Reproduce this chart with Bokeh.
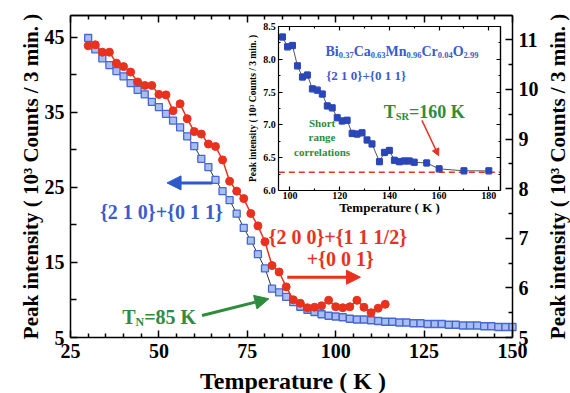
import math
from bokeh.plotting import figure
from bokeh.models import (Range1d, LinearAxis, FixedTicker, Label, Arrow, NormalHead,
                          Whisker, TeeHead, ColumnDataSource, PrintfTickFormatter)
from bokeh.embed import file_html
from bokeh.resources import INLINE

# ---------------- data: main panel ----------------
temp_blue = [30, 32, 34, 36, 38, 40, 42, 44, 46, 48, 50, 52, 54, 56, 58, 60, 62, 64, 66, 68,
             70, 72, 74, 76, 78, 80, 82, 84, 86, 88, 90, 92, 94, 96, 98, 100, 102, 104, 106, 108,
             110, 112, 114, 116, 118, 120, 122, 124, 126, 128, 130, 132, 134, 136, 138, 140,
             142, 144, 146, 148, 150]
counts_blue = [44.9, 43.4, 42.2, 41.3, 40.5, 39.8, 38.9, 38.0, 37.4, 36.4, 35.7, 34.8, 33.9, 33.0,
               31.8, 30.5, 28.8, 27.7, 26.0, 24.5, 23.3, 21.5, 19.6, 17.9, 16.1, 14.2, 11.5, 11.0,
               10.4, 9.7, 9.1, 8.7, 8.4, 8.1, 7.9, 7.8, 7.7, 7.5, 7.4, 7.4, 7.3, 7.2, 7.1, 7.1,
               7.0, 7.0, 6.9, 6.9, 6.8, 6.8, 6.8, 6.7, 6.7, 6.6, 6.6, 6.6, 6.5, 6.5, 6.4, 6.4, 6.4]
err_blue = 0.25

temp_red = [30, 32, 34, 36, 38, 40, 42, 44, 46, 48, 50, 52, 54, 56, 58, 60, 62, 64, 66, 68,
            70, 72, 74, 76, 78, 80, 82, 84, 86, 88, 90, 92, 94, 96, 98, 100, 102, 104, 106, 108,
            110, 112, 114]
counts_red = [10.88, 10.90, 10.75, 10.75, 10.53, 10.46, 10.35, 10.15, 10.08, 10.08, 9.90, 9.89,
              9.57, 9.71, 9.41, 9.15, 9.10, 8.90, 8.85, 8.58, 8.15, 7.95, 7.80, 7.50, 7.25, 6.93,
              6.45, 6.32, 6.02, 5.76, 5.69, 5.60, 5.61, 5.64, 5.75, 5.62, 5.60, 5.62, 5.75, 5.61,
              5.50, 5.59, 5.67]
err_red = 0.06

# ---------------- data: inset ----------------
temp_inset = [97, 99, 101, 103, 105, 107, 109, 111, 113, 115, 117, 119, 121, 123, 125, 127, 129,
              131, 133, 136, 138, 140, 142, 144, 146, 148, 150, 155, 160, 170, 180]
counts_inset = [8.34, 8.19, 8.21, 7.90, 7.73, 7.76, 7.55, 7.53, 7.47, 7.29, 7.26, 7.11, 7.06, 7.07,
                6.87, 6.86, 6.88, 6.77, 6.71, 6.44, 6.58, 6.61, 6.46, 6.44, 6.45, 6.45, 6.43,
                6.42, 6.33, 6.30, 6.30]
err_inset = 0.05
background_level = 6.28

main_x_ticks = [25, 50, 75, 100, 125, 150]
main_x_minor = [30, 35, 40, 45, 55, 60, 65, 70, 80, 85, 90, 95, 105, 110, 115, 120, 130, 135,
                140, 145]
left_ticks = [5, 15, 25, 35, 45]
left_minor = [10, 20, 30, 40]
right_ticks = [5, 6, 7, 8, 9, 10, 11]
right_minor = [5.5, 6.5, 7.5, 8.5, 9.5, 10.5]
inset_x_ticks = [100, 120, 140, 160, 180]
inset_x_minor = [110, 130, 150, 170]
inset_y_ticks = [6.0, 6.5, 7.0, 7.5, 8.0, 8.5]
inset_y_minor = [6.25, 6.75, 7.25, 7.75, 8.25]

# ---------------- colours / fonts ----------------
SERIF = "Liberation Serif"
BLUE_TXT = "#3a5ccc"
RED = "#e8321e"
GREEN = "#2e8c3c"
INSET_BLUE = "#2a46b8"

# axis windows (data) and where they sit on the 570 x 393 canvas (pixels)
W, H = 570, 393
X_RANGE, X_PIX = (25, 150), (70, 512)
LEFT_RANGE, Y_PIX = (5, 47.9), (337, 15)
RIGHT_RANGE = (5, 11.49)
INSET_X, INSET_XPIX = (95.5, 184.7), (278.3, 500)
INSET_Y, INSET_YPIX = (6.0, 8.5), (190, 26)


def xspan(rng_, pix):
    s = (rng_[1] - rng_[0]) / (pix[1] - pix[0])
    return Range1d(rng_[0] - pix[0] * s, rng_[1] + (W - pix[1]) * s)


def yspan(rng_, pix):
    s = (rng_[1] - rng_[0]) / (pix[0] - pix[1])
    return Range1d(rng_[0] - (H - pix[0]) * s, rng_[1] + pix[1] * s)


p = figure(width=W, height=H, output_backend="svg", toolbar_location=None,
           x_range=xspan(X_RANGE, X_PIX), y_range=yspan(LEFT_RANGE, Y_PIX),
           x_axis_location=None, y_axis_location=None,
           min_border=0, min_border_left=0, min_border_right=0, min_border_top=0,
           min_border_bottom=0)
p.extra_y_ranges = {"r": yspan(RIGHT_RANGE, Y_PIX), "iy": yspan(INSET_Y, INSET_YPIX)}
p.extra_x_ranges = {"ix": xspan(INSET_X, INSET_XPIX)}
p.grid.visible = False
p.outline_line_color = None
p.background_fill_color = "white"
p.border_fill_color = "white"


def style_axis(ax, size="20px", tin=7, mtin=4, lw=1.5, standoff=5):
    ax.axis_line_width = lw
    ax.axis_line_color = "black"
    ax.major_tick_in = tin
    ax.major_tick_out = 0
    ax.minor_tick_in = mtin
    ax.minor_tick_out = 0
    ax.major_tick_line_width = lw
    ax.minor_tick_line_width = lw
    ax.major_label_text_font = SERIF
    ax.major_label_text_font_style = "bold"
    ax.major_label_text_color = "black"
    ax.major_label_standoff = standoff
    ax.major_label_text_font_size = size


def title_style(ax, text, size, standoff):
    ax.axis_label = text
    ax.axis_label_text_font = SERIF
    ax.axis_label_text_font_style = "bold"
    ax.axis_label_text_font_size = size
    ax.axis_label_text_color = "black"
    ax.axis_label_standoff = standoff


def tick_only(place, loc, positions, length, lw, bounds, **rng):
    ax = LinearAxis(fixed_location=loc, bounds=bounds,
                    ticker=FixedTicker(ticks=[], minor_ticks=positions), **rng)
    ax.axis_line_width = lw
    ax.minor_tick_in = length
    ax.minor_tick_out = 0
    ax.minor_tick_line_width = lw
    ax.major_tick_line_color = None
    p.add_layout(ax, place)


# ---------------- main axes ----------------
xb = LinearAxis(fixed_location=LEFT_RANGE[0], bounds=X_RANGE,
                ticker=FixedTicker(ticks=main_x_ticks, minor_ticks=main_x_minor))
style_axis(xb, standoff=6)
p.add_layout(xb, "below")

yl = LinearAxis(fixed_location=X_RANGE[0], bounds=LEFT_RANGE,
                ticker=FixedTicker(ticks=left_ticks, minor_ticks=left_minor))
style_axis(yl, tin=7, mtin=6, standoff=6)
p.add_layout(yl, "left")

yr = LinearAxis(fixed_location=X_RANGE[1], bounds=RIGHT_RANGE, y_range_name="r",
                ticker=FixedTicker(ticks=right_ticks, minor_ticks=right_minor))
style_axis(yr, standoff=6)
p.add_layout(yr, "right")

tick_only("above", LEFT_RANGE[1], main_x_ticks, 7, 1.5, X_RANGE)
tick_only("above", LEFT_RANGE[1], main_x_minor, 4, 1.5, X_RANGE)

# ---------------- main data ----------------
src_b = ColumnDataSource(dict(x=temp_blue, y=counts_blue,
                              lo=[v - err_blue for v in counts_blue],
                              hi=[v + err_blue for v in counts_blue]))
src_r = ColumnDataSource(dict(x=temp_red, y=counts_red,
                              lo=[v - err_red for v in counts_red],
                              hi=[v + err_red for v in counts_red]))

p.line("x", "y", source=src_b, line_color="#333333", line_width=1)
p.add_layout(Whisker(base="x", lower="lo", upper="hi", source=src_b, line_color="#7d97e0",
                     upper_head=TeeHead(size=4, line_color="#7d97e0"),
                     lower_head=TeeHead(size=4, line_color="#7d97e0")))
p.scatter("x", "y", source=src_b, marker="square", size=7, fill_color="#a9bdf2",
          line_color="#4568d0", line_width=1.3)

p.line("x", "y", source=src_r, y_range_name="r", line_color=RED, line_width=1.5)
p.add_layout(Whisker(base="x", lower="lo", upper="hi", source=src_r, y_range_name="r",
                     line_color="#f38a78",
                     upper_head=TeeHead(size=5, line_color="#f38a78"),
                     lower_head=TeeHead(size=5, line_color="#f38a78")))
p.scatter("x", "y", source=src_r, y_range_name="r", marker="circle", size=8,
          fill_color=RED, line_color=RED)

# ---------------- inset axes ----------------
rng = dict(x_range_name="ix", y_range_name="iy")
ibx = LinearAxis(fixed_location=INSET_Y[0], bounds=INSET_X,
                 ticker=FixedTicker(ticks=inset_x_ticks, minor_ticks=inset_x_minor), **rng)
style_axis(ibx, size="10px", tin=4, mtin=2, lw=1.2, standoff=1)
title_style(ibx, "Temperature ( K )", "13px", -2)
p.add_layout(ibx, "below")

ily = LinearAxis(fixed_location=INSET_X[0], bounds=INSET_Y,
                 ticker=FixedTicker(ticks=inset_y_ticks, minor_ticks=inset_y_minor),
                 formatter=PrintfTickFormatter(format="%.1f"), **rng)
style_axis(ily, size="10px", tin=4, mtin=2, lw=1.2, standoff=3)
title_style(ily, "Peak intensity ( 10³ Counts / 3 min. )", "9.5px", 2)
p.add_layout(ily, "left")

tick_only("above", INSET_Y[1], inset_x_ticks, 4, 1.2, INSET_X, **rng)
tick_only("above", INSET_Y[1], inset_x_minor, 2, 1.2, INSET_X, **rng)
tick_only("right", INSET_X[1], inset_y_ticks, 4, 1.2, INSET_Y, **rng)
tick_only("right", INSET_X[1], inset_y_minor, 2, 1.2, INSET_Y, **rng)

# ---------------- inset data ----------------
src_i = ColumnDataSource(dict(x=temp_inset, y=counts_inset,
                              lo=[v - err_inset for v in counts_inset],
                              hi=[v + err_inset for v in counts_inset]))
p.line(x=list(INSET_X), y=[background_level, background_level], line_color=RED,
       line_width=1.5, line_dash="6 4", **rng)
p.line("x", "y", source=src_i, line_color="#555555", line_width=1, **rng)
p.add_layout(Whisker(base="x", lower="lo", upper="hi", source=src_i, line_color="#86a2ea",
                     upper_head=TeeHead(size=5, line_color="#86a2ea"),
                     lower_head=TeeHead(size=5, line_color="#86a2ea"), **rng))
p.scatter("x", "y", source=src_i, marker="square", size=6,
          fill_color=INSET_BLUE, line_color=INSET_BLUE, **rng)

# ---------------- text helpers ----------------
TB = {' ': 250, '(': 333, ')': 333, '+': 570, '.': 250, '/': 278, '=': 570, '{': 394, '}': 394,
      'B': 667, 'C': 722, 'K': 778, 'M': 944, 'N': 722, 'O': 778, 'R': 722, 'S': 556, 'T': 667,
      'a': 500, 'i': 278, 'n': 556, 'r': 444}


def tw(s, size):
    return sum(TB.get(c, 500) for c in s) * size / 1000.0


def rich(x, y, runs, color, **kw):
    off = 0.0
    for t, s, dy in runs:
        p.add_layout(Label(x=x, y=y, text=t, x_offset=off, y_offset=dy, text_font=SERIF,
                           text_font_size=f"{s}px", text_font_style="bold", text_color=color,
                           text_baseline="alphabetic", text_align="left", **kw))
        off += tw(t, s)


def lab(x, y, text, color, size, align="center", baseline="middle", angle=0.0, **kw):
    p.add_layout(Label(x=x, y=y, text=text, text_font=SERIF, text_font_size=f"{size}px",
                       text_font_style="bold", text_color=color, text_align=align,
                       text_baseline=baseline, angle=angle, **kw))


# main axis titles
YTITLE = "Peak intensity ( 10³ Counts / 3 min. )"
lab(87.9, -0.73, "Temperature ( K )", "black", 24)
lab(13.97, 26.45, YTITLE, "black", 21, angle=math.pi / 2)
lab(163.0, 26.45, YTITLE, "black", 21, angle=math.pi / 2)

# main annotations
lab(50.7, 21.7, "{2 1 0}+{0 1 1}", BLUE_TXT, 20)
lab(100.6, 7.02, "{2 0 0}+{1 1 1/2}", RED, 20, y_range_name="r")
lab(101.3, 6.586, "+{0 0 1}", RED, 20, y_range_name="r")
rich(39.6, 7.72, [("T", 20, 0), ("N", 12, -5), ("=85 K", 20, 0)], GREEN)

p.add_layout(Arrow(x_start=65.1, y_start=25.6, x_end=52.3, y_end=25.6, line_color="#2a5bc8",
                   line_width=3, end=NormalHead(size=14, fill_color="#2a5bc8",
                                                line_color="#2a5bc8")))
p.add_layout(Arrow(x_start=86.3, y_start=6.215, x_end=107.0, y_end=6.215, y_range_name="r",
                   line_color=RED, line_width=3,
                   end=NormalHead(size=14, fill_color=RED, line_color=RED)))
p.add_layout(Arrow(x_start=62.2, y_start=7.93, x_end=81.1, y_end=10.16, line_color=GREEN,
                   line_width=3, end=NormalHead(size=14, fill_color=GREEN, line_color=GREEN)))

# inset annotations
rich(114.3, 8.114, [("Bi", 14, 0), ("0.37", 8.5, -3.5), ("Ca", 14, 0), ("0.63", 8.5, -3.5),
                    ("Mn", 14, 0), ("0.96", 8.5, -3.5), ("Cr", 14, 0), ("0.04", 8.5, -3.5),
                    ("O", 14, 0), ("2.99", 8.5, -3.5)], BLUE_TXT, **rng)
lab(114.55, 7.753, "{2 1 0}+{0 1 1}", BLUE_TXT, 13, align="left", **rng)
rich(137.7, 7.204, [("T", 18, 0), ("SR", 10.5, -5), ("=160 K", 18, 0)], GREEN, **rng)
lab(112.9, 7.026, "Short", GREEN, 11, **rng)
lab(112.9, 6.81, "range", GREEN, 11, **rng)
lab(112.9, 6.584, "correlations", GREEN, 11, **rng)
p.add_layout(Arrow(x_start=153.1, y_start=7.07, x_end=159.8, y_end=6.53, line_color=RED,
                   line_width=1.5, end=NormalHead(size=7, fill_color=RED, line_color=RED),
                   **rng))

open("out.html", "w").write(file_html(p, INLINE))
